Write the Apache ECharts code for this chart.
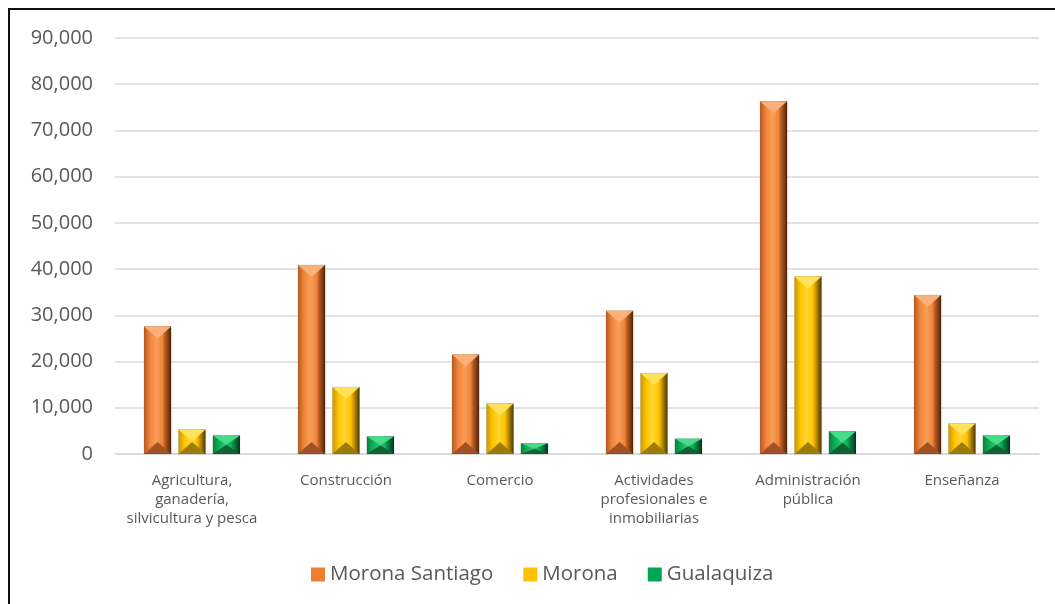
<!DOCTYPE html>
<html><head><meta charset="utf-8">
<script src="https://cdn.jsdelivr.net/npm/echarts@6/dist/echarts.min.js"></script>
<style>
html,body{margin:0;padding:0;background:#fff;overflow:hidden}
#frame{position:absolute;left:8px;top:8px;width:1060px;height:610px;border:2px solid #111;box-sizing:border-box}
#c{position:absolute;left:0;top:0;width:1055px;height:604px}
</style></head>
<body><div id="frame"></div><div id="c"></div>
<script>
const categories = ['Agricultura,\nganadería,\nsilvicultura y pesca','Construcción','Comercio','Actividades\nprofesionales e\ninmobiliarias','Administración\npública','Enseñanza'];
const seriesNames = ['Morona Santiago','Morona','Gualaquiza'];
const moronaSantiago = [27600, 40900, 21500, 31000, 76300, 34400];
const morona = [5300, 14500, 10900, 17500, 38400, 6600];
const gualaquiza = [4000, 3800, 2300, 3300, 4900, 4000];
const yTicks = {min: 0, max: 90000, interval: 10000};

const palettes = [
  {base:'#ED7D31', light:'#FA9E58', mid:'#F0843A', dark:'#4E250A', edge:'#B85A22', bottom:'#9E5226', top:'#FCB07A'},
  {base:'#FFC000', light:'#FFD633', mid:'#FFC400', dark:'#4A3800', edge:'#C99700', bottom:'#9C7D0C', top:'#FFE15A'},
  {base:'#00A651', light:'#2DC471', mid:'#0FAE55', dark:'#08341B', edge:'#0A8040', bottom:'#0E6233', top:'#45DC8A'}
];

function bodyGrad(p){
  return new echarts.graphic.LinearGradient(0,0,1,0,[
    {offset:0,color:p.edge},{offset:0.22,color:p.mid},{offset:0.45,color:p.light},
    {offset:0.68,color:p.mid},{offset:0.78,color:p.edge},{offset:1,color:p.dark}]);
}

function makeRender(si){
  return function(params, api){
    const idx = api.value(0), val = api.value(1);
    const base = api.coord([idx, 0]);
    const topP = api.coord([idx, val]);
    const catW = api.size([1,0])[0];
    const bw = catW*0.176;
    const gap = bw*0.27;
    const cx = base[0] + (si-1)*(bw+gap);
    const x0 = cx - bw/2, x1 = cx + bw/2;
    const yb = base[1], yt = topP[1];
    const h = yb - yt;
    const d = Math.min(12, h/2);
    const p = palettes[si];
    return {type:'group', children:[
      {type:'rect', shape:{x:x0,y:yt,width:bw,height:h}, style:{fill:bodyGrad(p)}},
      {type:'polygon', shape:{points:[[x0,yt],[x1,yt],[cx,yt+d]]}, style:{fill:p.top}},
      {type:'polygon', shape:{points:[[x0,yb],[x1,yb],[cx,yb-d]]}, style:{fill:p.bottom}},
      {type:'rect', shape:{x:x0,y:yt,width:bw,height:h}, style:{fill:'none',stroke:'rgba(0,0,0,0.15)',lineWidth:0.6}}
    ]};
  };
}

const FONT = '"Open Sans", "Noto Sans", sans-serif';
const dataSets = [moronaSantiago, morona, gualaquiza];
const chart = echarts.init(document.getElementById('c'), null, {renderer:'canvas'});
chart.setOption({
  animation:false,
  backgroundColor:'transparent',
  grid:{left:115, right:16, top:38, bottom:150},
  legend:{
    bottom:14, left:306, itemWidth:14, itemHeight:14, itemGap:30,
    icon:'rect',
    textStyle:{fontFamily:FONT, fontSize:20.5, color:'#595959'},
    data: seriesNames
  },
  xAxis:{
    type:'category', data:categories,
    axisLine:{lineStyle:{color:'#D9D9D9', width:1.5}},
    axisTick:{show:false},
    axisLabel:{interval:0, color:'#595959', fontFamily:FONT, fontSize:15, lineHeight:19, margin:17}
  },
  yAxis:{
    type:'value', min:yTicks.min, max:yTicks.max, interval:yTicks.interval,
    axisLine:{show:false}, axisTick:{show:false},
    splitLine:{lineStyle:{color:'#D9D9D9', width:1.5}},
    axisLabel:{color:'#595959', fontFamily:FONT, fontSize:20, margin:22,
      formatter: v => v.toLocaleString('en-US')}
  },
  series: dataSets.map((arr, si) => ({
    type:'custom', name:seriesNames[si],
    renderItem: makeRender(si),
    itemStyle:{color: palettes[si].base},
    encode:{x:0, y:1},
    data: arr.map((v,i)=>[i,v])
  }))
});
</script></body></html>
